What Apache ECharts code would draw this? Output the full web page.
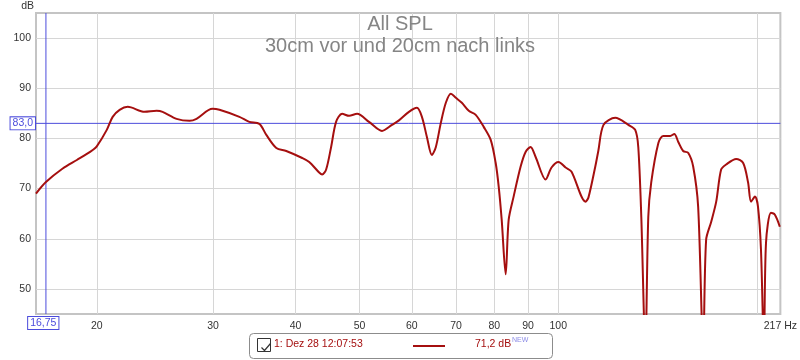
<!DOCTYPE html>
<html>
<head>
<meta charset="utf-8">
<script src="https://cdn.jsdelivr.net/npm/echarts@6/dist/echarts.min.js"></script>
<style>
  html, body { margin: 0; padding: 0; background: #fff; }
  #chart { width: 800px; height: 360px; }
</style>
</head>
<body>
<div id="chart"></div>
<script>
// measured response, Hz / dB
const freqs = [16.18, 16.75, 17.76, 18.66, 19.32, 19.72, 20.0, 20.71, 21.14, 21.66,
  22.28, 23.63, 24.64, 25.16, 26.42, 27.64, 28.32, 29.94, 30.68, 32.89,
  34.05, 35.26, 36.13, 37.41, 38.73, 40.95, 41.96, 43.44, 43.89, 44.51,
  45.29, 46.08, 47.06, 48.22, 49.58, 51.69, 54.08, 56.0, 57.38, 59.41,
  61.09, 62.16, 63.25, 64.36, 65.26, 66.4, 67.57, 68.77, 69.97, 71.45,
  73.2, 74.99, 77.11, 79.02, 80.4, 81.25, 82.1, 83.25, 84.13, 85.59,
  87.71, 89.24, 90.81, 92.42, 95.69, 97.69, 100.1, 102.6, 104.7, 110.0,
  111.1, 113.8, 115.0, 117.1, 122.0, 127.7, 130.8, 132.2, 133.6, 135.5,
  136.9, 138.3, 141.8, 144.2, 147.8, 149.9, 152.0, 154.6, 157.4, 160.1,
  162.9, 165.8, 167.5, 170.5, 173.5, 176.5, 179.6, 186.0, 190.6, 193.9,
  195.9, 198.6, 200.7, 202.8, 204.9, 206.4, 210.0, 212.9, 216.6];
const spl = [69.0, 71.3, 74.0, 75.7, 76.9, 77.7, 78.4, 81.7, 84.3, 85.7,
  86.3, 85.3, 85.5, 85.3, 83.9, 83.5, 83.9, 85.9, 85.7, 84.3,
  83.3, 82.9, 80.7, 78.1, 77.5, 76.1, 75.3, 73.2, 72.8, 73.8,
  78.3, 83.3, 84.9, 84.5, 84.9, 83.3, 81.5, 82.7, 83.6, 85.3,
  86.1, 84.3, 80.3, 76.7, 78.3, 83.1, 87.1, 88.9, 88.1, 87.1,
  85.5, 84.7, 82.3, 79.7, 75.1, 70.4, 63.8, 52.9, 63.8, 68.4,
  74.4, 77.3, 78.3, 76.3, 71.8, 74.2, 75.3, 74.2, 73.4, 67.4,
  68.2, 74.4, 77.5, 82.7, 84.1, 82.7, 81.7, 78.3, 64.4, 38,
  64.4, 71.2, 79.1, 80.5, 80.5, 80.9, 79.3, 77.5, 77.1, 74.4,
  66.4, 38, 59.8, 63.4, 67.4, 73.8, 74.8, 75.9, 75.1, 71.2,
  67.4, 68.4, 66.4, 57.9, 38, 59.2, 65.2, 64.8, 62.4];

const xGridHz = [20, 30, 40, 50, 60, 70, 80, 90, 100, 200];
const xLabelHz = [20, 30, 40, 50, 60, 70, 80, 90, 100, 217];
const yTicks = [50, 60, 70, 80, 90, 100];
const xRange = [16.18, 217];
const yRange = [45, 105];

const cursorHz = 16.75;
const cursorDb = 83.0;
const traceName = '1: Dez 28 12:07:53';
const traceValue = 71.2;

const FONT = '"Liberation Sans", Arial, sans-serif';
const RED = '#a50f0f';
const BLUE = '#4c4cdc';
const lg = v => Math.log10(v);
const comma = (v, d) => v.toFixed(d).replace('.', ',');

const chart = echarts.init(document.getElementById('chart'));

// cursor cross lines drawn as plain line series
function cursorSeries(points) {
  return {
    type: 'line', data: points, showSymbol: false, symbol: 'none',
    silent: true, z: 1, clip: false,
    lineStyle: { color: BLUE, width: 1 }, itemStyle: { color: BLUE }
  };
}

const option = {
  animation: false,
  backgroundColor: '#fff',
  textStyle: { fontFamily: FONT },
  title: [
    { text: 'All SPL', left: 'center', top: 9,
      textStyle: { fontSize: 20, fontWeight: 'normal', color: '#858585', fontFamily: FONT } },
    { text: '30cm vor und 20cm nach links', left: 'center', top: 31,
      textStyle: { fontSize: 20, fontWeight: 'normal', color: '#858585', fontFamily: FONT } }
  ],
  grid: {
    left: 36, right: 17, top: 13, bottom: 46,
    show: true, borderColor: '#c4c4c4', borderWidth: 2
  },
  xAxis: {
    type: 'value',
    min: lg(xRange[0]), max: lg(xRange[1]),
    axisLine: { show: false },
    axisTick: { show: false, customValues: xGridHz.map(lg) },
    splitLine: { show: true, lineStyle: { color: '#d6d6d6', width: 1 } },
    axisLabel: {
      customValues: xLabelHz.map(lg),
      color: '#333', fontSize: 10.5, fontFamily: FONT, margin: 7,
      formatter: function (v) {
        const hz = Math.round(Math.pow(10, v));
        return hz === xLabelHz[xLabelHz.length - 1] ? hz + ' Hz' : String(hz);
      }
    }
  },
  yAxis: {
    type: 'value',
    min: yRange[0], max: yRange[1],
    name: 'dB', nameLocation: 'end', nameGap: 1,
    nameTextStyle: { color: '#333', fontSize: 10.5, align: 'right', padding: [0, 2, 0, 0] },
    axisLine: { show: false },
    axisTick: { show: false, customValues: yTicks },
    splitLine: { show: true, lineStyle: { color: '#d6d6d6', width: 1 } },
    axisLabel: { customValues: yTicks, color: '#333', fontSize: 10.5, fontFamily: FONT, margin: 5 }
  },
  series: [
    cursorSeries([[lg(cursorHz), yRange[0]], [lg(cursorHz), yRange[1]]]),
    cursorSeries([[lg(xRange[0]), cursorDb], [lg(xRange[1]), cursorDb]]),
    {
      type: 'line',
      name: traceName,
      data: freqs.map((f, i) => [lg(f), spl[i]]),
      showSymbol: false,
      smooth: 0.3,
      clip: true,
      z: 3,
      lineStyle: { color: RED, width: 2 },
      itemStyle: { color: RED },
      markLine: {
        silent: true,
        symbol: 'none',
        lineStyle: { color: 'rgba(0,0,0,0)', width: 1 },
        label: {
          position: 'start', distance: 3,
          color: BLUE, fontSize: 10.5, fontFamily: FONT,
          backgroundColor: '#fff', borderColor: BLUE, borderWidth: 1,
          padding: [1, 2, 0, 2]
        },
        data: [
          { xAxis: lg(cursorHz), label: { formatter: comma(cursorHz, 2) } },
          { yAxis: cursorDb, label: { formatter: comma(cursorDb, 1), distance: 1 } }
        ]
      }
    }
  ],
  graphic: [
    { type: 'rect', left: 249, top: 333,
      shape: { width: 303, height: 25, r: 4 },
      style: { fill: '#fff', stroke: '#8c8c8c', lineWidth: 1 } },
    { type: 'rect', left: 257, top: 338,
      shape: { width: 13, height: 13 },
      style: { fill: '#fff', stroke: '#333', lineWidth: 1 } },
    { type: 'polyline', left: 259, top: 341,
      shape: { points: [[0, 4], [3, 7], [9, 0]] },
      style: { fill: null, stroke: '#333', lineWidth: 1.2 } },
    { type: 'text', left: 274, top: 339,
      style: { text: traceName, fill: RED, font: '10.5px ' + FONT } },
    { type: 'line', shape: { x1: 413, y1: 346, x2: 445, y2: 346 },
      style: { stroke: RED, lineWidth: 2 } },
    { type: 'text', left: 475, top: 339,
      style: { text: comma(traceValue, 1) + ' dB', fill: RED, font: '10.5px ' + FONT } },
    { type: 'text', left: 512, top: 337,
      style: { text: 'NEW', fill: '#8c8ce6', font: '7px ' + FONT } }
  ]
};

chart.setOption(option);
</script>
</body>
</html>
